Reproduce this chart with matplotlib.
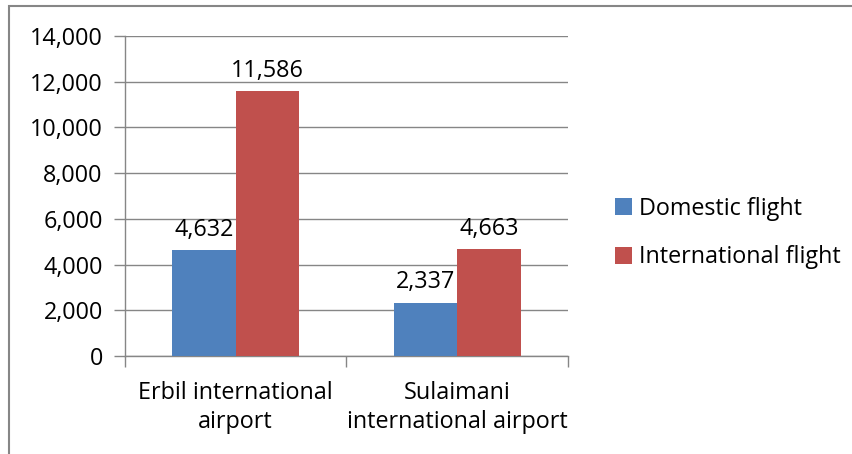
import matplotlib.pyplot as plt
from matplotlib.patches import Rectangle
from matplotlib.ticker import FuncFormatter
import numpy as np

plt.rcParams['font.family'] = ['Open Sans', 'DejaVu Sans']

categories = ['Erbil international\nairport', 'Sulaimani\ninternational airport']
domestic = [4632, 2337]
international = [11586, 4663]
series_names = ['Domestic flight', 'International flight']
colors = ['#4F81BD', '#C0504D']
grid_color = '#868686'

fig = plt.figure(figsize=(8.53, 4.54), dpi=100)
ax = fig.add_axes([125 / 853, 1 - 356 / 454, 443 / 853, 320 / 454])

# outer chart border (right and bottom edges fall outside the image)
fig.patches.append(Rectangle((9 / 853, -10 / 454), 860 / 853, 458 / 454, transform=fig.transFigure,
                             fill=False, edgecolor=grid_color, linewidth=1.5))

fs = 16.8
x = np.arange(len(categories))
w = 1 / 3.5
bars1 = ax.bar(x - w / 2, domestic, w, color=colors[0], label=series_names[0], zorder=3)
bars2 = ax.bar(x + w / 2, international, w, color=colors[1], label=series_names[1], zorder=3)

for bars in (bars1, bars2):
    for b in bars:
        h = b.get_height()
        ax.annotate('{:,}'.format(int(h)), (b.get_x() + b.get_width() / 2, h),
                    xytext=(0, 6), textcoords='offset points', ha='center', va='bottom', fontsize=fs)

ax.set_xlim(-0.5, 1.5)
ax.set_ylim(0, 14000)
ax.set_yticks(range(0, 14001, 2000))
ax.yaxis.set_major_formatter(FuncFormatter(lambda v, p: '{:,}'.format(int(v))))
ax.grid(axis='y', color=grid_color, linewidth=1, zorder=0)

ax.set_xticks([-0.5, 0.5, 1.5])
ax.set_xticklabels([])
ax.set_xticks(x, minor=True)
ax.set_xticklabels(categories, minor=True, fontsize=fs, linespacing=1.25)
ax.tick_params(axis='x', which='minor', length=0, pad=18)
ax.tick_params(axis='x', which='major', length=8, color=grid_color, width=1)
ax.tick_params(axis='y', length=8, color=grid_color, width=1, labelsize=fs, pad=8)

for s in ['top', 'right']:
    ax.spines[s].set_visible(False)
for s in ['left', 'bottom']:
    ax.spines[s].set_color(grid_color)
    ax.spines[s].set_linewidth(1)

fig.legend(loc='center left', bbox_to_anchor=(594 / 853, 1 - 233 / 454), frameon=False,
           fontsize=fs, handlelength=0.75, handleheight=0.75, handletextpad=0.3, labelspacing=1.05)

fig.savefig('out.png', dpi=100)
